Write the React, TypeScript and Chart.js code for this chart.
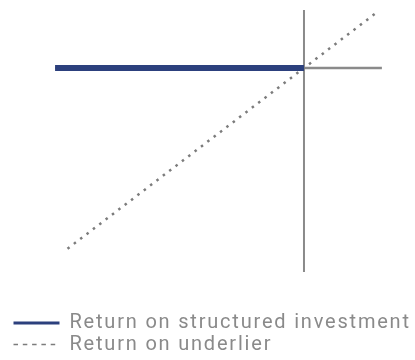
import React, { useEffect, useRef } from "react";
import { Chart, registerables } from "chart.js";

Chart.register(...registerables);

// Underlier return (x) vs. investment return (y), in percent
const seriesLabels = ["Return on structured investment", "Return on underlier"];
const structuredX = [-100, 0];
const structuredY = [0, 0];
const underlierX = [-95, 30];
const underlierY = [-95, 30];
const horizAxisX = [-100, 31.3];
const horizAxisY = [0, 0];
const vertAxisX = [0, 0];
const vertAxisY = [-107.3, 30.5];

const BLUE = "#2c407d";
const GRAY = "#8a8a8a";
const DASH_GRAY = "#7c7c7c";
const TEXT = "#8a8a8a";

const pts = (xs: number[], ys: number[]) => xs.map((x, i) => ({ x, y: ys[i] }));

const spacingPlugin = {
  id: "letterSpacing",
  beforeUpdate(chart: any) {
    (chart.ctx as any).letterSpacing = "1.8px";
  },
  beforeDraw(chart: any) {
    (chart.ctx as any).letterSpacing = "1.8px";
  },
};

export default function App() {
  const ref = useRef<HTMLCanvasElement | null>(null);
  useEffect(() => {
    if (!ref.current) return;
    const chart = new Chart(ref.current, {
      type: "line",
      plugins: [spacingPlugin],
      data: {
        datasets: [
          {
            label: seriesLabels[0],
            data: pts(structuredX, structuredY),
            borderColor: BLUE,
            borderWidth: 6,
            borderCapStyle: "butt",
            pointRadius: 0,
          },
          {
            label: seriesLabels[1],
            data: pts(underlierX, underlierY),
            borderColor: DASH_GRAY,
            borderWidth: 2.5,
            borderDash: [2.5, 5.5],
            pointRadius: 0,
          },
          {
            label: "",
            data: pts(horizAxisX, horizAxisY),
            borderColor: GRAY,
            borderWidth: 2.5,
            pointRadius: 0,
          },
          {
            label: "",
            data: pts(vertAxisX, vertAxisY),
            borderColor: GRAY,
            borderWidth: 2,
            pointRadius: 0,
          },
        ],
      },
      options: {
        animation: false,
        responsive: false,
        maintainAspectRatio: false,
        layout: { padding: { left: 12, right: 0, top: 10, bottom: -4.5 } },
        scales: {
          x: { type: "linear", display: false, min: -117.3, max: 44.6 },
          y: { type: "linear", display: false, min: -128.0, max: 30.5 },
        },
        plugins: {
          tooltip: { enabled: false },
          legend: {
            position: "bottom",
            align: "start",
            labels: {
              usePointStyle: true,
              pointStyleWidth: 46,
              boxHeight: 20,
              padding: 1.5,
              color: TEXT,
              font: { family: "Roboto", size: 20, weight: "400" as any },
              generateLabels: () => [
                {
                  text: seriesLabels[0],
                  strokeStyle: BLUE,
                  fillStyle: BLUE,
                  lineWidth: 3,
                  lineDash: [],
                  pointStyle: "line",
                  fontColor: TEXT,
                  datasetIndex: 0,
                } as any,
                {
                  text: seriesLabels[1],
                  strokeStyle: DASH_GRAY,
                  fillStyle: DASH_GRAY,
                  lineWidth: 1.5,
                  lineDash: [4.5, 4.8],
                  pointStyle: "line",
                  fontColor: TEXT,
                  datasetIndex: 1,
                } as any,
              ],
            },
          },
        },
      },
    });
    return () => chart.destroy();
  }, []);
  return (
    <div style={{ position: "absolute", left: 0, top: 0, width: 415, height: 360, background: "#fff" }}>
      <canvas ref={ref} width={415} height={360} style={{ width: 415, height: 360, display: "block" }} />
    </div>
  );
}
